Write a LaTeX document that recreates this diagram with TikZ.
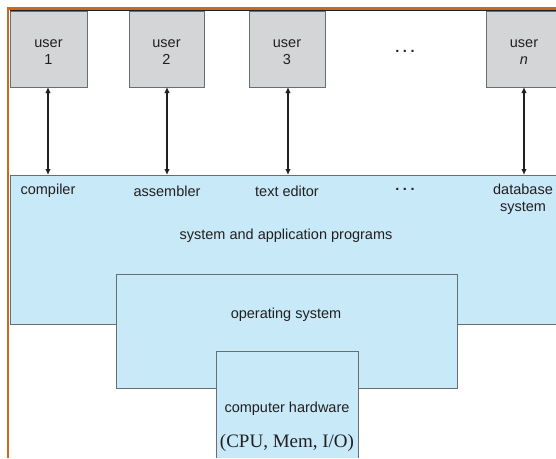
\documentclass[tikz,border=0pt]{standalone}
\usepackage{fontspec}
\setmainfont{Liberation Sans}
\newfontfamily\serifff{Liberation Serif}
\usetikzlibrary{arrows.meta}
\definecolor{bluefill}{RGB}{199,233,248}
\definecolor{grayfill}{RGB}{211,213,214}
\definecolor{edgegray}{RGB}{105,110,115}
\definecolor{orangebar}{RGB}{200,106,30}
\definecolor{txt}{RGB}{35,31,32}
\tikzset{
  usr/.style={draw=edgegray, line width=0.8pt, fill=grayfill},
  blk/.style={draw=edgegray, line width=0.8pt, fill=bluefill},
  lbl/.style={font=\fontsize{14.5}{16.5}\selectfont, text=txt, align=center, inner sep=0pt},
  conn/.style={line width=1.2pt, draw=txt, {Latex[length=6pt,width=5.5pt]}-{Latex[length=6pt,width=5.5pt]}},
}
\newcommand{\mydots}{\textbf{.\hspace{3.5pt}.\hspace{3.5pt}.}}
\begin{document}
\begin{tikzpicture}[x=1pt,y=-1pt]
\useasboundingbox (0,0) rectangle (556,458);
% blue program layer
\fill[bluefill] (10,175) rectangle (556,324);
\draw[edgegray, line width=0.8pt] (556,175) -- (10,175) -- (10,324) -- (116,324);
\draw[edgegray, line width=0.8pt] (457,324) -- (556,324);
% OS
\draw[blk] (116,274) rectangle (457,388);
% hardware
\fill[bluefill] (216,351) rectangle (358,458);
\draw[edgegray, line width=0.8pt] (216,458) -- (216,351) -- (358,351) -- (358,458);
% users
\draw[usr] (10,11) rectangle (87,87);
\draw[usr] (129,11) rectangle (204,87);
\draw[usr] (249,11) rectangle (325,87);
\draw[usr] (486,11) rectangle (560,87);
\node[lbl] (u1) at (48.5,52) {user\\1};
\node[lbl] (u2) at (166.5,52) {user\\2};
\node[lbl] (u3) at (287,52) {user\\3};
\node[lbl] (dots1) at (405,51) {\mydots};
\node[lbl] (un) at (524,52) {user\\\textit{n}};
\coordinate (t1) at (48,87);
\coordinate (t2) at (167,87);
\coordinate (t3) at (288,87);
\coordinate (t4) at (524,87);
\coordinate (b1) at (48,175);
\coordinate (b2) at (167,175);
\coordinate (b3) at (288,175);
\coordinate (b4) at (524,175);
\draw[conn] (t1) -- (b1);
\draw[conn] (t2) -- (b2);
\draw[conn] (t3) -- (b3);
\draw[conn] (t4) -- (b4);
% labels
\node[lbl] (c) at (48,191) {compiler};
\node[lbl] (a) at (167,191) {assembler};
\node[lbl] (te) at (287,191) {text editor};
\node[lbl] (dots2) at (405,189) {\mydots};
\node[lbl] (db) at (523,199) {database\\system};
\node[lbl] (sap) at (286,236) {system and application programs};
\node[lbl] (os) at (286,315) {operating system};
\node[lbl] (hw) at (287,409) {computer hardware};
\node[lbl, font=\serifff\fontsize{19}{21}\selectfont] (cpu) at (287,443) {(CPU, Mem, I/O)};
% frame
\draw[orangebar, line width=2.5pt] (8,458) -- (8,8.5) -- (556,8.5);
\draw[txt, line width=0.9pt] (9.5,10.5) -- (556,10.5);
\end{tikzpicture}
\end{document}
